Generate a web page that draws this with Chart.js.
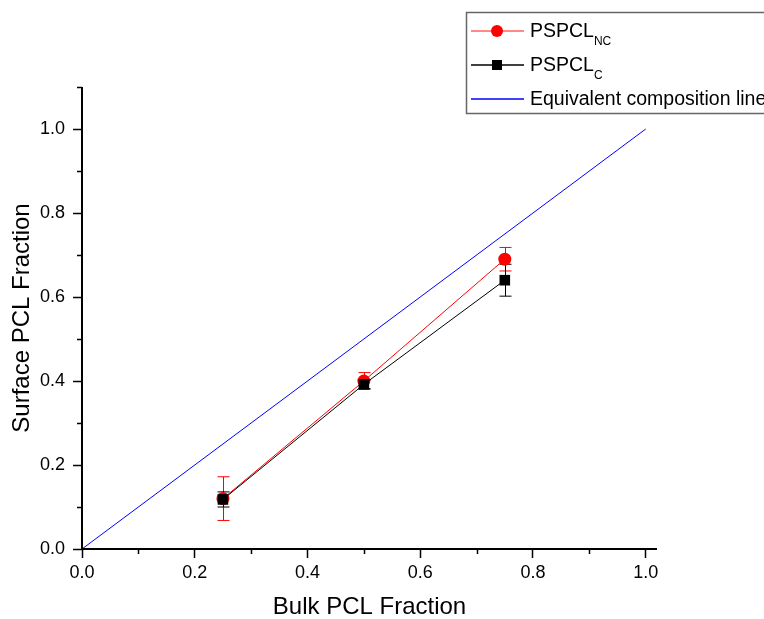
<!DOCTYPE html>
<html>
<head>
<meta charset="utf-8">
<script src="https://cdn.jsdelivr.net/npm/chart.js@4.4.1/dist/chart.umd.min.js"></script>
<style>
html,body{margin:0;padding:0;background:#fff;}
#wrap{width:764px;height:619px;position:relative;}
</style>
</head>
<body>
<div id="wrap"><canvas id="c" width="764" height="619"></canvas></div>
<script>
// ---- data ----
const bulkFraction = [0.25, 0.5, 0.75];
const ncValues = [0.12, 0.40, 0.69];
const ncErrors = [0.052, 0.02, 0.028];
const cValues = [0.118, 0.392, 0.640];
const cErrors = [0.018, 0.01, 0.038];
const equivX = [0, 1];
const equivY = [0, 1];
const xTickValues = [0, 0.2, 0.4, 0.6, 0.8, 1.0];
const yTickValues = [0, 0.2, 0.4, 0.6, 0.8, 1.0];
const xMinorValues = [0.1, 0.3, 0.5, 0.7, 0.9];
const yMinorValues = [0.1, 0.3, 0.5, 0.7, 0.9, 1.1];
const legendNames = [['PSPCL', 'NC'], ['PSPCL', 'C'], ['Equivalent composition line', '']];

const FONT = "'Liberation Sans', Arial, sans-serif";

const errorBarPlugin = {
  id: 'errbars',
  beforeDatasetsDraw(chart) {
    const ctx = chart.ctx;
    const xs = chart.scales.x, ys = chart.scales.y;
    const sets = [
      {vals: ncValues, errs: ncErrors, color: '#ff0000', cap: 6},
      {vals: cValues, errs: cErrors, color: '#000000', cap: 6}
    ];
    ctx.save();
    ctx.lineWidth = 1;
    sets.forEach(s => {
      ctx.strokeStyle = s.color;
      bulkFraction.forEach((bx, i) => {
        const px = Math.round(xs.getPixelForValue(bx)) + 0.5;
        const yt = ys.getPixelForValue(s.vals[i] + s.errs[i]);
        const yb = ys.getPixelForValue(s.vals[i] - s.errs[i]);
        ctx.beginPath();
        ctx.moveTo(px, yt); ctx.lineTo(px, yb);
        ctx.moveTo(px - s.cap, yt); ctx.lineTo(px + s.cap, yt);
        ctx.moveTo(px - s.cap, yb); ctx.lineTo(px + s.cap, yb);
        ctx.stroke();
      });
    });
    ctx.restore();
  }
};

const axesPlugin = {
  id: 'axesdeco',
  afterDraw(chart) {
    const ctx = chart.ctx;
    const xs = chart.scales.x, ys = chart.scales.y;
    const ca = chart.chartArea;
    ctx.save();
    ctx.strokeStyle = '#000';
    ctx.lineWidth = 1.5;
    ctx.beginPath();
    xMinorValues.forEach(v => {
      const px = Math.round(xs.getPixelForValue(v)) + 0.5;
      ctx.moveTo(px, ca.bottom); ctx.lineTo(px, ca.bottom + 5);
    });
    yMinorValues.forEach(v => {
      const py = Math.round(ys.getPixelForValue(v)) + 0.5;
      ctx.moveTo(ca.left, py); ctx.lineTo(ca.left - 5, py);
    });
    ctx.stroke();
    // axis lines
    ctx.lineWidth = 2;
    ctx.beginPath();
    ctx.moveTo(ca.left, ca.top); ctx.lineTo(ca.left, ca.bottom + 1);
    ctx.moveTo(ca.left - 1, ca.bottom); ctx.lineTo(ca.right, ca.bottom);
    ctx.stroke();

    // legend
    const lx = 466.5, ly = 12.5, lw = 320, lh = 101;
    ctx.lineWidth = 1.5;
    ctx.strokeStyle = '#666';
    ctx.fillStyle = '#fff';
    ctx.fillRect(lx, ly, lw, lh);
    ctx.strokeRect(lx, ly, lw, lh);
    const rows = [
      {y: 31, color: '#ff0000', line: '#ff6060', marker: 'circle'},
      {y: 65, color: '#000000', line: '#000000', marker: 'rect'},
      {y: 99, color: '#0000ff', line: '#0000ff', marker: null}
    ];
    rows.forEach((r, i) => {
      ctx.strokeStyle = r.line;
      ctx.lineWidth = 1.3;
      ctx.beginPath();
      ctx.moveTo(471, r.y); ctx.lineTo(524, r.y);
      ctx.stroke();
      ctx.fillStyle = r.color;
      if (r.marker === 'circle') {
        ctx.beginPath(); ctx.arc(497, r.y, 6, 0, Math.PI * 2); ctx.fill();
      } else if (r.marker === 'rect') {
        ctx.fillRect(492, r.y - 5, 10, 10);
      }
      ctx.fillStyle = '#000';
      ctx.textBaseline = 'middle';
      ctx.textAlign = 'left';
      ctx.font = '19.5px ' + FONT;
      ctx.fillText(legendNames[i][0], 530, r.y + 1);
      if (legendNames[i][1]) {
        const w = ctx.measureText(legendNames[i][0]).width;
        ctx.font = '12px ' + FONT;
        ctx.fillText(legendNames[i][1], 530 + w, r.y + 11);
      }
    });
    ctx.restore();
  }
};

new Chart(document.getElementById('c'), {
  type: 'scatter',
  data: {
    datasets: [
      {
        label: 'Equivalent composition line',
        data: equivX.map((x, i) => ({x: x, y: equivY[i]})),
        showLine: true,
        borderColor: '#0000ff',
        borderWidth: 1,
        pointRadius: 0,
        order: 3
      },
      {
        label: 'PSPCL_C',
        data: bulkFraction.map((x, i) => ({x: x, y: cValues[i]})),
        showLine: true,
        borderColor: '#000000',
        borderWidth: 1,
        pointStyle: 'rect',
        pointRadius: 7.5,
        pointBackgroundColor: '#000',
        pointBorderWidth: 0,
        order: 1
      },
      {
        label: 'PSPCL_NC',
        data: bulkFraction.map((x, i) => ({x: x, y: ncValues[i]})),
        showLine: true,
        borderColor: '#ff0000',
        borderWidth: 1,
        pointStyle: 'circle',
        pointRadius: 6.5,
        pointBackgroundColor: '#ff0000',
        pointBorderWidth: 0,
        order: 2
      }
    ]
  },
  options: {
    responsive: false,
    animation: false,
    events: [],
    layout: {padding: {left: 0, top: 87, right: 107, bottom: 0}},
    plugins: {legend: {display: false}, tooltip: {enabled: false}},
    scales: {
      x: {
        type: 'linear',
        min: 0, max: 1.02,
        afterBuildTicks: s => { s.ticks = xTickValues.map(v => ({value: v})); },
        afterFit: s => { s.height = 70; },
        border: {display: false},
        grid: {drawOnChartArea: false, drawTicks: true, tickLength: 9, color: '#000', tickWidth: 1.5},
        ticks: {color: '#000', font: {family: FONT, size: 18}, padding: 4,
                maxRotation: 0, callback: v => v.toFixed(1)},
        title: {display: true, text: 'Bulk PCL Fraction', color: '#000',
                font: {family: FONT, size: 24}, padding: {top: 8, bottom: -3}}
      },
      y: {
        type: 'linear',
        min: 0, max: 1.1,
        afterBuildTicks: s => { s.ticks = yTickValues.map(v => ({value: v})); },
        afterFit: s => { s.width = 82; },
        border: {display: false},
        grid: {drawOnChartArea: false, drawTicks: true, tickLength: 9, color: '#000', tickWidth: 1.5},
        ticks: {color: '#000', font: {family: FONT, size: 18}, padding: 8,
                callback: v => v.toFixed(1)},
        title: {display: true, text: 'Surface PCL Fraction', color: '#000',
                font: {family: FONT, size: 24}, padding: {top: 8, bottom: 0}}
      }
    }
  },
  plugins: [errorBarPlugin, axesPlugin]
});
</script>
</body>
</html>
